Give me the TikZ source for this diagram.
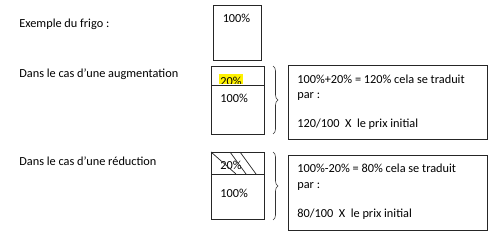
\documentclass[tikz,border=0pt]{standalone}
\usepackage{fontspec}
\setmainfont{Carlito}
\usetikzlibrary{decorations.pathreplacing}
\begin{document}
\begin{tikzpicture}[x=1pt,y=-1pt,line width=0.7pt,
  lbl/.style={anchor=west,inner sep=0pt,font=\fontsize{12.3}{14}\selectfont},
  boxn/.style={draw=black!85,inner sep=0pt,line width=0.8pt},
  bracen/.style={draw=black!80,line width=0.6pt,decorate,decoration={brace,amplitude=5pt}}]
\useasboundingbox (0,0) rectangle (500,237);

% left labels
\node[lbl] (t0) at (19,24) {Exemple du frigo :};
\node[lbl] (t1) at (19,74) {Dans le cas d’une augmentation};
\node[lbl] (t2) at (19,161) {Dans le cas d’une réduction};

% box 0
\node[boxn,minimum width=48pt,minimum height=55pt] (b0) at (237,32.5) {};
\node[lbl,anchor=center] (b0t) at (236.5,18) {100\%};

% box 1 (augmentation)
\node[boxn,minimum width=53pt,minimum height=68pt] (b1) at (237.5,100) {};
\coordinate (d1l) at (211,85);
\coordinate (d1r) at (264,85);
\draw[black!85,line width=0.8pt] (d1l) -- (d1r);
\begin{scope}
  \clip (212,67) rectangle (263,83.6);
  \fill[yellow] (219,74) rectangle (243,83.6);
  \node[lbl,anchor=base west] (b1h) at (220,86) {20\%};
\end{scope}
\node[lbl] (b1t) at (220,98) {100\%};

% box 2 (reduction)
\node[boxn,minimum width=53pt,minimum height=67pt] (b2) at (237.5,185.5) {};
\coordinate (d2l) at (211,174);
\coordinate (d2r) at (264,174);
\draw[black!85,line width=0.8pt] (d2l) -- (d2r);
\node[lbl] (b2h) at (220,165) {20\%};
\node[lbl] (b2t) at (220,193) {100\%};
\coordinate (h1a) at (211,152); \coordinate (h1b) at (236,174);
\coordinate (h2a) at (230,152); \coordinate (h2b) at (246,174);
\coordinate (h3a) at (240,152); \coordinate (h3b) at (256,174);
\draw[black!85,line width=0.7pt] (h1a) -- (h1b) (h2a) -- (h2b) (h3a) -- (h3b);

% braces
\coordinate (br1a) at (273,66); \coordinate (br1b) at (273,134);
\draw[bracen] (br1a) -- (br1b);
\coordinate (br2a) at (273,152); \coordinate (br2b) at (273,220);
\draw[bracen] (br2a) -- (br2b);

% right boxes
\node[boxn,minimum width=199pt,minimum height=74pt] (r1) at (387.5,102) {};
\node[lbl] (r1a) at (297,79) {100\%+20\% = 120\% cela se traduit};
\node[lbl] (r1b) at (297,97) {par :};
\node[lbl] (r1c) at (297,124) {120/100\ \ X\ \ le prix initial};

\node[boxn,minimum width=199pt,minimum height=75pt] (r2) at (387.5,192.5) {};
\node[lbl] (r2a) at (297,168) {100\%-20\% = 80\% cela se traduit};
\node[lbl] (r2b) at (297,187) {par :};
\node[lbl] (r2c) at (297,214) {80/100\ \ X\ \ le prix initial};
\end{tikzpicture}
\end{document}
